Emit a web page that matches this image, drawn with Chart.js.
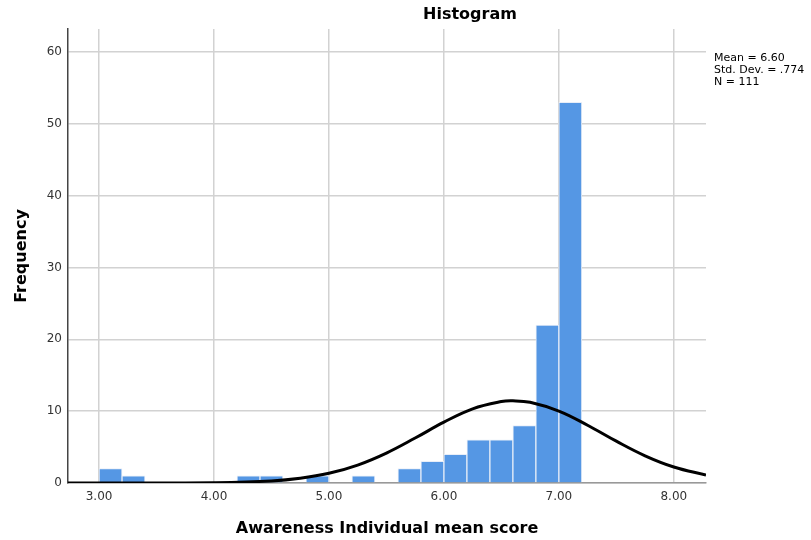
<!DOCTYPE html>
<html>
<head>
<meta charset="utf-8">
<script src="https://cdn.jsdelivr.net/npm/chart.js@4.4.1/dist/chart.umd.min.js"></script>
<style>
  html, body { margin: 0; padding: 0; background: #fff; }
  #wrap { position: relative; width: 811px; height: 540px; }
</style>
</head>
<body>
<div id="wrap"><canvas id="myChart" width="811" height="540"></canvas></div>
<script>
// histogram bins (centre of each 0.2 wide bin) and counts
var binCenters = [3.1, 3.3, 3.5, 3.7, 3.9, 4.1, 4.3, 4.5, 4.7, 4.9, 5.1, 5.3, 5.5, 5.7, 5.9, 6.1, 6.3, 6.5, 6.7, 6.9, 7.1];
var counts     = [2,   1,   0,   0,   0,   0,   1,   1,   0,   1,   0,   1,   0,   2,   3,   4,   6,   6,   8,   22,  53];

// normal curve
var curveX = [2.73, 3.0, 3.5, 4.0, 4.5, 4.75, 5.0, 5.25, 5.5, 5.75, 6.0, 6.25, 6.5, 6.6, 6.75, 7.0, 7.25, 7.5, 7.75, 8.0, 8.28];
var curveY = [0,    0,   0,   0.04, 0.29, 0.66, 1.35, 2.5, 4.17, 6.26, 8.47, 10.33, 11.34, 11.44, 11.23, 10.01, 8.04, 5.82, 3.79, 2.23, 1.1];

var xTicks = [3, 4, 5, 6, 7, 8];
var yTicks = [0, 10, 20, 30, 40, 50, 60];

var statsLines = ['Mean = 6.60', 'Std. Dev. = .774', 'N = 111'];

var fontFam = '"DejaVu Sans", Verdana, sans-serif';

var extras = {
    id: 'extras',
    afterDraw: function (chart) {
        var c = chart.ctx;
        c.save();
        c.fillStyle = '#000';
        c.font = 'bold 16px ' + fontFam;
        c.textAlign = 'center';
        c.textBaseline = 'middle';
        c.fillText('Histogram', 470, 15);
        c.font = '11px ' + fontFam;
        c.textAlign = 'left';
        statsLines.forEach(function (s, i) {
            c.fillText(s, 714, 58 + i * 12);
        });
        c.restore();
    }
};

var ctx = document.getElementById('myChart').getContext('2d');
var chart = new Chart(ctx, {
    type: 'bar',
    data: {
        datasets: [
            {
                type: 'line',
                data: curveX.map(function (x, i) { return { x: x, y: curveY[i] }; }),
                borderColor: '#000',
                borderWidth: 3,
                pointRadius: 0,
                tension: 0.4,
                fill: false,
                order: 0
            },
            {
                data: binCenters.map(function (x, i) { return { x: x, y: counts[i] }; }),
                backgroundColor: '#5597e4',
                borderColor: '#e8eef8',
                borderWidth: 1,
                barPercentage: 1,
                categoryPercentage: 1,
                order: 1
            }
        ]
    },
    options: {
        responsive: false,
        animation: false,
        layout: { padding: { left: 0, right: 105, top: 29, bottom: 0 } },
        plugins: {
            legend: { display: false },
            tooltip: { enabled: false }
        },
        scales: {
            x: {
                type: 'linear',
                min: 2.73,
                max: 8.28,
                offset: false,
                afterBuildTicks: function (s) { s.ticks = xTicks.map(function (v) { return { value: v }; }); },
                afterFit: function (s) { s.height = 57; },
                ticks: {
                    color: '#333',
                    font: { family: fontFam, size: 12 },
                    padding: 7,
                    maxRotation: 0,
                    callback: function (v) { return v.toFixed(2); }
                },
                grid: { color: '#d2d2d2', lineWidth: 1.5, drawTicks: false, offset: false },
                border: { color: '#999', width: 1.5 },
                title: {
                    display: true,
                    text: 'Awareness Individual mean score',
                    color: '#000',
                    font: { family: fontFam, size: 16, weight: 'bold' },
                    padding: { top: 17, bottom: 2 }
                }
            },
            y: {
                min: 0,
                max: 63.2,
                afterBuildTicks: function (s) { s.ticks = yTicks.map(function (v) { return { value: v }; }); },
                afterFit: function (s) { s.width = 68; },
                ticks: {
                    color: '#333',
                    font: { family: fontFam, size: 12 },
                    padding: 6
                },
                grid: { color: '#d2d2d2', lineWidth: 1.5, drawTicks: false },
                border: { color: '#444', width: 1.5 },
                title: {
                    display: true,
                    text: 'Frequency',
                    color: '#000',
                    font: { family: fontFam, size: 16, weight: 'bold' },
                    padding: { top: 12, bottom: 6 }
                }
            }
        }
    },
    plugins: [extras]
});
</script>
</body>
</html>
